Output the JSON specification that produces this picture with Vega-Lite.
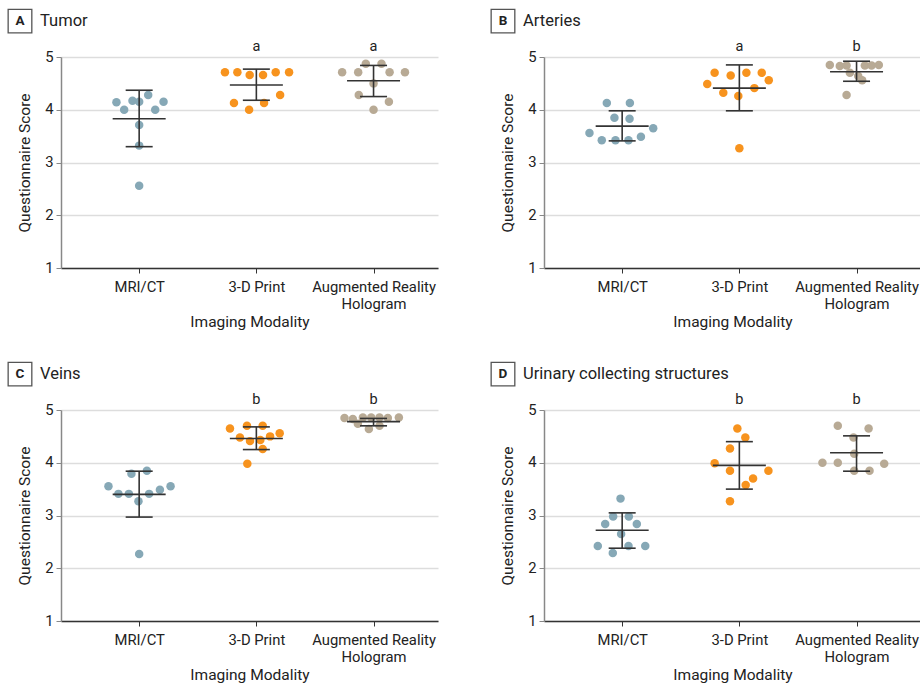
{
  "$schema": "https://vega.github.io/schema/vega-lite/v6.json",
  "padding": {"left": 5, "top": 6, "right": 0, "bottom": 0},
  "spacing": 28,
  "config": {
    "font": "Roboto",
    "view": {"stroke": null},
    "axis": {"labelFont": "Roboto", "titleFont": "Roboto", "titleFontWeight": "normal", "labelColor": "#222", "titleColor": "#222"},
    "axisX": {
      "grid": false,
      "labelFontSize": 14.8,
      "labelLineHeight": 17,
      "labelPadding": 6,
      "tickSize": 5,
      "tickColor": "#333",
      "domainColor": "#333",
      "domainWidth": 1.3,
      "titleFontSize": 15.5,
      "titlePadding": 4
    },
    "axisY": {
      "grid": true,
      "gridColor": "#dddddd",
      "gridWidth": 1.5,
      "labelFontSize": 14.8,
      "labelPadding": 3,
      "tickSize": 5,
      "tickColor": "#888",
      "domainColor": "#888",
      "domainWidth": 1.5,
      "titleFontSize": 15.5,
      "titlePadding": 12
    }
  },
  "datasets": {
    "pts": [
      {"panel": "A", "group": "MRI/CT", "x": 0.806, "score": 4.14},
      {"panel": "A", "group": "MRI/CT", "x": 0.872, "score": 4.00},
      {"panel": "A", "group": "MRI/CT", "x": 0.943, "score": 4.17},
      {"panel": "A", "group": "MRI/CT", "x": 1.000, "score": 4.15},
      {"panel": "A", "group": "MRI/CT", "x": 1.077, "score": 4.28},
      {"panel": "A", "group": "MRI/CT", "x": 1.137, "score": 4.00},
      {"panel": "A", "group": "MRI/CT", "x": 1.208, "score": 4.15},
      {"panel": "A", "group": "MRI/CT", "x": 1.000, "score": 3.71},
      {"panel": "A", "group": "MRI/CT", "x": 1.000, "score": 3.32},
      {"panel": "A", "group": "MRI/CT", "x": 1.000, "score": 2.56},
      {"panel": "A", "group": "3-D Print", "x": 1.732, "score": 4.71},
      {"panel": "A", "group": "3-D Print", "x": 1.838, "score": 4.71},
      {"panel": "A", "group": "3-D Print", "x": 1.943, "score": 4.66},
      {"panel": "A", "group": "3-D Print", "x": 2.057, "score": 4.66},
      {"panel": "A", "group": "3-D Print", "x": 2.165, "score": 4.71},
      {"panel": "A", "group": "3-D Print", "x": 2.279, "score": 4.71},
      {"panel": "A", "group": "3-D Print", "x": 2.203, "score": 4.28},
      {"panel": "A", "group": "3-D Print", "x": 1.809, "score": 4.13},
      {"panel": "A", "group": "3-D Print", "x": 2.066, "score": 4.13},
      {"panel": "A", "group": "3-D Print", "x": 1.938, "score": 4.00},
      {"panel": "A", "group": "Augmented Reality Hologram", "x": 2.732, "score": 4.71},
      {"panel": "A", "group": "Augmented Reality Hologram", "x": 2.869, "score": 4.71},
      {"panel": "A", "group": "Augmented Reality Hologram", "x": 2.934, "score": 4.87},
      {"panel": "A", "group": "Augmented Reality Hologram", "x": 3.068, "score": 4.87},
      {"panel": "A", "group": "Augmented Reality Hologram", "x": 3.137, "score": 4.71},
      {"panel": "A", "group": "Augmented Reality Hologram", "x": 3.268, "score": 4.71},
      {"panel": "A", "group": "Augmented Reality Hologram", "x": 3.000, "score": 4.50},
      {"panel": "A", "group": "Augmented Reality Hologram", "x": 2.874, "score": 4.28},
      {"panel": "A", "group": "Augmented Reality Hologram", "x": 3.131, "score": 4.15},
      {"panel": "A", "group": "Augmented Reality Hologram", "x": 3.000, "score": 4.00},
      {"panel": "B", "group": "MRI/CT", "x": 0.869, "score": 4.13},
      {"panel": "B", "group": "MRI/CT", "x": 1.066, "score": 4.13},
      {"panel": "B", "group": "MRI/CT", "x": 0.934, "score": 3.85},
      {"panel": "B", "group": "MRI/CT", "x": 1.063, "score": 3.83},
      {"panel": "B", "group": "MRI/CT", "x": 0.721, "score": 3.56},
      {"panel": "B", "group": "MRI/CT", "x": 1.265, "score": 3.65},
      {"panel": "B", "group": "MRI/CT", "x": 0.826, "score": 3.42},
      {"panel": "B", "group": "MRI/CT", "x": 0.943, "score": 3.42},
      {"panel": "B", "group": "MRI/CT", "x": 1.054, "score": 3.42},
      {"panel": "B", "group": "MRI/CT", "x": 1.160, "score": 3.49},
      {"panel": "B", "group": "3-D Print", "x": 1.789, "score": 4.70},
      {"panel": "B", "group": "3-D Print", "x": 1.926, "score": 4.65},
      {"panel": "B", "group": "3-D Print", "x": 2.060, "score": 4.70},
      {"panel": "B", "group": "3-D Print", "x": 2.191, "score": 4.70},
      {"panel": "B", "group": "3-D Print", "x": 1.726, "score": 4.49},
      {"panel": "B", "group": "3-D Print", "x": 2.251, "score": 4.56},
      {"panel": "B", "group": "3-D Print", "x": 1.863, "score": 4.32},
      {"panel": "B", "group": "3-D Print", "x": 1.991, "score": 4.26},
      {"panel": "B", "group": "3-D Print", "x": 2.128, "score": 4.41},
      {"panel": "B", "group": "3-D Print", "x": 2.000, "score": 3.27},
      {"panel": "B", "group": "Augmented Reality Hologram", "x": 2.772, "score": 4.85},
      {"panel": "B", "group": "Augmented Reality Hologram", "x": 2.857, "score": 4.83},
      {"panel": "B", "group": "Augmented Reality Hologram", "x": 2.915, "score": 4.84},
      {"panel": "B", "group": "Augmented Reality Hologram", "x": 3.071, "score": 4.84},
      {"panel": "B", "group": "Augmented Reality Hologram", "x": 3.128, "score": 4.84},
      {"panel": "B", "group": "Augmented Reality Hologram", "x": 3.190, "score": 4.85},
      {"panel": "B", "group": "Augmented Reality Hologram", "x": 2.943, "score": 4.70},
      {"panel": "B", "group": "Augmented Reality Hologram", "x": 3.014, "score": 4.64},
      {"panel": "B", "group": "Augmented Reality Hologram", "x": 3.048, "score": 4.56},
      {"panel": "B", "group": "Augmented Reality Hologram", "x": 2.915, "score": 4.28},
      {"panel": "C", "group": "MRI/CT", "x": 0.738, "score": 3.555},
      {"panel": "C", "group": "MRI/CT", "x": 0.823, "score": 3.41},
      {"panel": "C", "group": "MRI/CT", "x": 0.912, "score": 3.41},
      {"panel": "C", "group": "MRI/CT", "x": 0.934, "score": 3.79},
      {"panel": "C", "group": "MRI/CT", "x": 1.066, "score": 3.85},
      {"panel": "C", "group": "MRI/CT", "x": 0.994, "score": 3.27},
      {"panel": "C", "group": "MRI/CT", "x": 1.085, "score": 3.41},
      {"panel": "C", "group": "MRI/CT", "x": 1.177, "score": 3.49},
      {"panel": "C", "group": "MRI/CT", "x": 1.268, "score": 3.555},
      {"panel": "C", "group": "MRI/CT", "x": 1.000, "score": 2.27},
      {"panel": "C", "group": "3-D Print", "x": 1.775, "score": 4.65},
      {"panel": "C", "group": "3-D Print", "x": 1.920, "score": 4.70},
      {"panel": "C", "group": "3-D Print", "x": 2.054, "score": 4.70},
      {"panel": "C", "group": "3-D Print", "x": 1.860, "score": 4.48},
      {"panel": "C", "group": "3-D Print", "x": 1.946, "score": 4.41},
      {"panel": "C", "group": "3-D Print", "x": 2.034, "score": 4.43},
      {"panel": "C", "group": "3-D Print", "x": 2.117, "score": 4.50},
      {"panel": "C", "group": "3-D Print", "x": 2.199, "score": 4.56},
      {"panel": "C", "group": "3-D Print", "x": 2.054, "score": 4.26},
      {"panel": "C", "group": "3-D Print", "x": 1.923, "score": 3.98},
      {"panel": "C", "group": "Augmented Reality Hologram", "x": 2.752, "score": 4.85},
      {"panel": "C", "group": "Augmented Reality Hologram", "x": 2.823, "score": 4.83},
      {"panel": "C", "group": "Augmented Reality Hologram", "x": 2.909, "score": 4.86},
      {"panel": "C", "group": "Augmented Reality Hologram", "x": 2.980, "score": 4.86},
      {"panel": "C", "group": "Augmented Reality Hologram", "x": 3.051, "score": 4.86},
      {"panel": "C", "group": "Augmented Reality Hologram", "x": 3.122, "score": 4.85},
      {"panel": "C", "group": "Augmented Reality Hologram", "x": 3.216, "score": 4.86},
      {"panel": "C", "group": "Augmented Reality Hologram", "x": 2.866, "score": 4.74},
      {"panel": "C", "group": "Augmented Reality Hologram", "x": 2.960, "score": 4.64},
      {"panel": "C", "group": "Augmented Reality Hologram", "x": 3.051, "score": 4.70},
      {"panel": "D", "group": "MRI/CT", "x": 0.986, "score": 3.32},
      {"panel": "D", "group": "MRI/CT", "x": 0.923, "score": 2.98},
      {"panel": "D", "group": "MRI/CT", "x": 1.057, "score": 2.98},
      {"panel": "D", "group": "MRI/CT", "x": 0.855, "score": 2.84},
      {"panel": "D", "group": "MRI/CT", "x": 1.125, "score": 2.84},
      {"panel": "D", "group": "MRI/CT", "x": 0.991, "score": 2.65},
      {"panel": "D", "group": "MRI/CT", "x": 0.792, "score": 2.42},
      {"panel": "D", "group": "MRI/CT", "x": 1.054, "score": 2.42},
      {"panel": "D", "group": "MRI/CT", "x": 1.197, "score": 2.42},
      {"panel": "D", "group": "MRI/CT", "x": 0.920, "score": 2.29},
      {"panel": "D", "group": "3-D Print", "x": 1.983, "score": 4.65},
      {"panel": "D", "group": "3-D Print", "x": 2.051, "score": 4.48},
      {"panel": "D", "group": "3-D Print", "x": 1.920, "score": 4.27},
      {"panel": "D", "group": "3-D Print", "x": 1.789, "score": 3.99},
      {"panel": "D", "group": "3-D Print", "x": 1.920, "score": 3.85},
      {"panel": "D", "group": "3-D Print", "x": 2.248, "score": 3.85},
      {"panel": "D", "group": "3-D Print", "x": 2.117, "score": 3.70},
      {"panel": "D", "group": "3-D Print", "x": 2.054, "score": 3.58},
      {"panel": "D", "group": "3-D Print", "x": 1.920, "score": 3.27},
      {"panel": "D", "group": "Augmented Reality Hologram", "x": 2.840, "score": 4.70},
      {"panel": "D", "group": "Augmented Reality Hologram", "x": 3.103, "score": 4.65},
      {"panel": "D", "group": "Augmented Reality Hologram", "x": 2.974, "score": 4.48},
      {"panel": "D", "group": "Augmented Reality Hologram", "x": 2.980, "score": 4.17},
      {"panel": "D", "group": "Augmented Reality Hologram", "x": 2.709, "score": 4.00},
      {"panel": "D", "group": "Augmented Reality Hologram", "x": 2.840, "score": 4.00},
      {"panel": "D", "group": "Augmented Reality Hologram", "x": 3.236, "score": 3.98},
      {"panel": "D", "group": "Augmented Reality Hologram", "x": 2.980, "score": 3.85},
      {"panel": "D", "group": "Augmented Reality Hologram", "x": 3.111, "score": 3.85}
    ],
    "sums": [
      {"panel": "A", "group": "MRI/CT", "x": 1, "mean": 3.83, "lo": 3.30, "hi": 4.37, "sig": ""},
      {"panel": "A", "group": "3-D Print", "x": 2, "mean": 4.47, "lo": 4.18, "hi": 4.77, "sig": "a"},
      {"panel": "A", "group": "Augmented Reality Hologram", "x": 3, "mean": 4.55, "lo": 4.25, "hi": 4.84, "sig": "a"},
      {"panel": "B", "group": "MRI/CT", "x": 1, "mean": 3.69, "lo": 3.41, "hi": 3.98, "sig": ""},
      {"panel": "B", "group": "3-D Print", "x": 2, "mean": 4.41, "lo": 3.98, "hi": 4.85, "sig": "a"},
      {"panel": "B", "group": "Augmented Reality Hologram", "x": 3, "mean": 4.72, "lo": 4.54, "hi": 4.92, "sig": "b"},
      {"panel": "C", "group": "MRI/CT", "x": 1, "mean": 3.40, "lo": 2.97, "hi": 3.84, "sig": ""},
      {"panel": "C", "group": "3-D Print", "x": 2, "mean": 4.46, "lo": 4.25, "hi": 4.68, "sig": "b"},
      {"panel": "C", "group": "Augmented Reality Hologram", "x": 3, "mean": 4.78, "lo": 4.70, "hi": 4.84, "sig": "b"},
      {"panel": "D", "group": "MRI/CT", "x": 1, "mean": 2.72, "lo": 2.38, "hi": 3.05, "sig": ""},
      {"panel": "D", "group": "3-D Print", "x": 2, "mean": 3.95, "lo": 3.50, "hi": 4.40, "sig": "b"},
      {"panel": "D", "group": "Augmented Reality Hologram", "x": 3, "mean": 4.19, "lo": 3.84, "hi": 4.51, "sig": "b"}
    ],
    "hdrs": [
      {"panel": "A", "letter": "A", "name": "Tumor"},
      {"panel": "B", "letter": "B", "name": "Arteries"},
      {"panel": "C", "letter": "C", "name": "Veins"},
      {"panel": "D", "letter": "D", "name": "Urinary collecting structures"}
    ]
  },
  "vconcat": [
    {"spacing": 50, "hconcat": [
      {"width": 377, "height": 211, "layer": [
        {"data": {"name": "pts"}, "transform": [{"filter": "datum.panel == 'A'"}], "mark": {"type": "circle", "size": 72, "opacity": 1},
         "encoding": {"x": {"field": "x", "type": "quantitative", "scale": {"domain": [0.333, 3.55], "nice": false, "zero": false}, "axis": {"title": "Imaging Modality", "values": [1, 2, 3], "labelExpr": "datum.value == 1 ? 'MRI/CT' : datum.value == 2 ? '3-D Print' : ['Augmented Reality', 'Hologram']"}},
                      "y": {"field": "score", "type": "quantitative", "scale": {"domain": [1, 5], "nice": false, "zero": false}, "axis": {"title": "Questionnaire Score", "values": [1, 2, 3, 4, 5], "format": "d"}},
                      "color": {"field": "group", "type": "nominal", "legend": null, "scale": {"domain": ["MRI/CT", "3-D Print", "Augmented Reality Hologram"], "range": ["#86a8b6", "#f7931e", "#b8aa95"]}}}},
        {"data": {"name": "sums"}, "transform": [{"filter": "datum.panel == 'A'"}], "mark": {"type": "rule", "color": "#333", "strokeWidth": 1.6},
         "encoding": {"x": {"field": "x", "type": "quantitative"}, "y": {"field": "lo", "type": "quantitative"}, "y2": {"field": "hi"}}},
        {"data": {"name": "sums"}, "transform": [{"filter": "datum.panel == 'A'"}], "mark": {"type": "tick", "orient": "horizontal", "size": 53, "thickness": 1.6, "color": "#333", "opacity": 1},
         "encoding": {"x": {"field": "x", "type": "quantitative"}, "y": {"field": "mean", "type": "quantitative"}}},
        {"data": {"name": "sums"}, "transform": [{"filter": "datum.panel == 'A'"}], "mark": {"type": "tick", "orient": "horizontal", "size": 27, "thickness": 1.6, "color": "#333", "opacity": 1},
         "encoding": {"x": {"field": "x", "type": "quantitative"}, "y": {"field": "lo", "type": "quantitative"}}},
        {"data": {"name": "sums"}, "transform": [{"filter": "datum.panel == 'A'"}], "mark": {"type": "tick", "orient": "horizontal", "size": 27, "thickness": 1.6, "color": "#333", "opacity": 1},
         "encoding": {"x": {"field": "x", "type": "quantitative"}, "y": {"field": "hi", "type": "quantitative"}}},
        {"data": {"name": "sums"}, "transform": [{"filter": "datum.panel == 'A' && datum.sig != ''"}], "mark": {"type": "text", "fontSize": 14.5, "baseline": "bottom", "dy": -3, "color": "#222"},
         "encoding": {"x": {"field": "x", "type": "quantitative"}, "y": {"datum": 5, "type": "quantitative"}, "text": {"field": "sig"}}},
        {"data": {"name": "hdrs"}, "transform": [{"filter": "datum.panel == 'A'"}], "mark": {"type": "point", "shape": "square", "size": 560, "filled": false, "stroke": "#555", "strokeWidth": 1.3, "opacity": 1},
         "encoding": {"x": {"datum": -0.017, "type": "quantitative"}, "y": {"datum": 5.68, "type": "quantitative"}}},
        {"data": {"name": "hdrs"}, "transform": [{"filter": "datum.panel == 'A'"}], "mark": {"type": "text", "fontSize": 13.5, "fontWeight": "bold", "align": "center", "baseline": "middle", "color": "#222"},
         "encoding": {"x": {"datum": -0.017, "type": "quantitative"}, "y": {"datum": 5.68, "type": "quantitative"}, "text": {"field": "letter"}}},
        {"data": {"name": "hdrs"}, "transform": [{"filter": "datum.panel == 'A'"}], "mark": {"type": "text", "fontSize": 16.5, "align": "left", "baseline": "middle", "color": "#222"},
         "encoding": {"x": {"datum": 0.154, "type": "quantitative"}, "y": {"datum": 5.68, "type": "quantitative"}, "text": {"field": "name"}}}
      ]},
      {"width": 377, "height": 211, "layer": [
        {"data": {"name": "pts"}, "transform": [{"filter": "datum.panel == 'B'"}], "mark": {"type": "circle", "size": 72, "opacity": 1},
         "encoding": {"x": {"field": "x", "type": "quantitative", "scale": {"domain": [0.333, 3.55], "nice": false, "zero": false}, "axis": {"title": "Imaging Modality", "values": [1, 2, 3], "labelExpr": "datum.value == 1 ? 'MRI/CT' : datum.value == 2 ? '3-D Print' : ['Augmented Reality', 'Hologram']"}},
                      "y": {"field": "score", "type": "quantitative", "scale": {"domain": [1, 5], "nice": false, "zero": false}, "axis": {"title": "Questionnaire Score", "values": [1, 2, 3, 4, 5], "format": "d"}},
                      "color": {"field": "group", "type": "nominal", "legend": null, "scale": {"domain": ["MRI/CT", "3-D Print", "Augmented Reality Hologram"], "range": ["#86a8b6", "#f7931e", "#b8aa95"]}}}},
        {"data": {"name": "sums"}, "transform": [{"filter": "datum.panel == 'B'"}], "mark": {"type": "rule", "color": "#333", "strokeWidth": 1.6},
         "encoding": {"x": {"field": "x", "type": "quantitative"}, "y": {"field": "lo", "type": "quantitative"}, "y2": {"field": "hi"}}},
        {"data": {"name": "sums"}, "transform": [{"filter": "datum.panel == 'B'"}], "mark": {"type": "tick", "orient": "horizontal", "size": 53, "thickness": 1.6, "color": "#333", "opacity": 1},
         "encoding": {"x": {"field": "x", "type": "quantitative"}, "y": {"field": "mean", "type": "quantitative"}}},
        {"data": {"name": "sums"}, "transform": [{"filter": "datum.panel == 'B'"}], "mark": {"type": "tick", "orient": "horizontal", "size": 27, "thickness": 1.6, "color": "#333", "opacity": 1},
         "encoding": {"x": {"field": "x", "type": "quantitative"}, "y": {"field": "lo", "type": "quantitative"}}},
        {"data": {"name": "sums"}, "transform": [{"filter": "datum.panel == 'B'"}], "mark": {"type": "tick", "orient": "horizontal", "size": 27, "thickness": 1.6, "color": "#333", "opacity": 1},
         "encoding": {"x": {"field": "x", "type": "quantitative"}, "y": {"field": "hi", "type": "quantitative"}}},
        {"data": {"name": "sums"}, "transform": [{"filter": "datum.panel == 'B' && datum.sig != ''"}], "mark": {"type": "text", "fontSize": 14.5, "baseline": "bottom", "dy": -3, "color": "#222"},
         "encoding": {"x": {"field": "x", "type": "quantitative"}, "y": {"datum": 5, "type": "quantitative"}, "text": {"field": "sig"}}},
        {"data": {"name": "hdrs"}, "transform": [{"filter": "datum.panel == 'B'"}], "mark": {"type": "point", "shape": "square", "size": 560, "filled": false, "stroke": "#555", "strokeWidth": 1.3, "opacity": 1},
         "encoding": {"x": {"datum": -0.017, "type": "quantitative"}, "y": {"datum": 5.68, "type": "quantitative"}}},
        {"data": {"name": "hdrs"}, "transform": [{"filter": "datum.panel == 'B'"}], "mark": {"type": "text", "fontSize": 13.5, "fontWeight": "bold", "align": "center", "baseline": "middle", "color": "#222"},
         "encoding": {"x": {"datum": -0.017, "type": "quantitative"}, "y": {"datum": 5.68, "type": "quantitative"}, "text": {"field": "letter"}}},
        {"data": {"name": "hdrs"}, "transform": [{"filter": "datum.panel == 'B'"}], "mark": {"type": "text", "fontSize": 16.5, "align": "left", "baseline": "middle", "color": "#222"},
         "encoding": {"x": {"datum": 0.154, "type": "quantitative"}, "y": {"datum": 5.68, "type": "quantitative"}, "text": {"field": "name"}}}
      ]}
    ]},
    {"spacing": 50, "hconcat": [
      {"width": 377, "height": 211, "layer": [
        {"data": {"name": "pts"}, "transform": [{"filter": "datum.panel == 'C'"}], "mark": {"type": "circle", "size": 72, "opacity": 1},
         "encoding": {"x": {"field": "x", "type": "quantitative", "scale": {"domain": [0.333, 3.55], "nice": false, "zero": false}, "axis": {"title": "Imaging Modality", "values": [1, 2, 3], "labelExpr": "datum.value == 1 ? 'MRI/CT' : datum.value == 2 ? '3-D Print' : ['Augmented Reality', 'Hologram']"}},
                      "y": {"field": "score", "type": "quantitative", "scale": {"domain": [1, 5], "nice": false, "zero": false}, "axis": {"title": "Questionnaire Score", "values": [1, 2, 3, 4, 5], "format": "d"}},
                      "color": {"field": "group", "type": "nominal", "legend": null, "scale": {"domain": ["MRI/CT", "3-D Print", "Augmented Reality Hologram"], "range": ["#86a8b6", "#f7931e", "#b8aa95"]}}}},
        {"data": {"name": "sums"}, "transform": [{"filter": "datum.panel == 'C'"}], "mark": {"type": "rule", "color": "#333", "strokeWidth": 1.6},
         "encoding": {"x": {"field": "x", "type": "quantitative"}, "y": {"field": "lo", "type": "quantitative"}, "y2": {"field": "hi"}}},
        {"data": {"name": "sums"}, "transform": [{"filter": "datum.panel == 'C'"}], "mark": {"type": "tick", "orient": "horizontal", "size": 53, "thickness": 1.6, "color": "#333", "opacity": 1},
         "encoding": {"x": {"field": "x", "type": "quantitative"}, "y": {"field": "mean", "type": "quantitative"}}},
        {"data": {"name": "sums"}, "transform": [{"filter": "datum.panel == 'C'"}], "mark": {"type": "tick", "orient": "horizontal", "size": 27, "thickness": 1.6, "color": "#333", "opacity": 1},
         "encoding": {"x": {"field": "x", "type": "quantitative"}, "y": {"field": "lo", "type": "quantitative"}}},
        {"data": {"name": "sums"}, "transform": [{"filter": "datum.panel == 'C'"}], "mark": {"type": "tick", "orient": "horizontal", "size": 27, "thickness": 1.6, "color": "#333", "opacity": 1},
         "encoding": {"x": {"field": "x", "type": "quantitative"}, "y": {"field": "hi", "type": "quantitative"}}},
        {"data": {"name": "sums"}, "transform": [{"filter": "datum.panel == 'C' && datum.sig != ''"}], "mark": {"type": "text", "fontSize": 14.5, "baseline": "bottom", "dy": -3, "color": "#222"},
         "encoding": {"x": {"field": "x", "type": "quantitative"}, "y": {"datum": 5, "type": "quantitative"}, "text": {"field": "sig"}}},
        {"data": {"name": "hdrs"}, "transform": [{"filter": "datum.panel == 'C'"}], "mark": {"type": "point", "shape": "square", "size": 560, "filled": false, "stroke": "#555", "strokeWidth": 1.3, "opacity": 1},
         "encoding": {"x": {"datum": -0.017, "type": "quantitative"}, "y": {"datum": 5.68, "type": "quantitative"}}},
        {"data": {"name": "hdrs"}, "transform": [{"filter": "datum.panel == 'C'"}], "mark": {"type": "text", "fontSize": 13.5, "fontWeight": "bold", "align": "center", "baseline": "middle", "color": "#222"},
         "encoding": {"x": {"datum": -0.017, "type": "quantitative"}, "y": {"datum": 5.68, "type": "quantitative"}, "text": {"field": "letter"}}},
        {"data": {"name": "hdrs"}, "transform": [{"filter": "datum.panel == 'C'"}], "mark": {"type": "text", "fontSize": 16.5, "align": "left", "baseline": "middle", "color": "#222"},
         "encoding": {"x": {"datum": 0.154, "type": "quantitative"}, "y": {"datum": 5.68, "type": "quantitative"}, "text": {"field": "name"}}}
      ]},
      {"width": 377, "height": 211, "layer": [
        {"data": {"name": "pts"}, "transform": [{"filter": "datum.panel == 'D'"}], "mark": {"type": "circle", "size": 72, "opacity": 1},
         "encoding": {"x": {"field": "x", "type": "quantitative", "scale": {"domain": [0.333, 3.55], "nice": false, "zero": false}, "axis": {"title": "Imaging Modality", "values": [1, 2, 3], "labelExpr": "datum.value == 1 ? 'MRI/CT' : datum.value == 2 ? '3-D Print' : ['Augmented Reality', 'Hologram']"}},
                      "y": {"field": "score", "type": "quantitative", "scale": {"domain": [1, 5], "nice": false, "zero": false}, "axis": {"title": "Questionnaire Score", "values": [1, 2, 3, 4, 5], "format": "d"}},
                      "color": {"field": "group", "type": "nominal", "legend": null, "scale": {"domain": ["MRI/CT", "3-D Print", "Augmented Reality Hologram"], "range": ["#86a8b6", "#f7931e", "#b8aa95"]}}}},
        {"data": {"name": "sums"}, "transform": [{"filter": "datum.panel == 'D'"}], "mark": {"type": "rule", "color": "#333", "strokeWidth": 1.6},
         "encoding": {"x": {"field": "x", "type": "quantitative"}, "y": {"field": "lo", "type": "quantitative"}, "y2": {"field": "hi"}}},
        {"data": {"name": "sums"}, "transform": [{"filter": "datum.panel == 'D'"}], "mark": {"type": "tick", "orient": "horizontal", "size": 53, "thickness": 1.6, "color": "#333", "opacity": 1},
         "encoding": {"x": {"field": "x", "type": "quantitative"}, "y": {"field": "mean", "type": "quantitative"}}},
        {"data": {"name": "sums"}, "transform": [{"filter": "datum.panel == 'D'"}], "mark": {"type": "tick", "orient": "horizontal", "size": 27, "thickness": 1.6, "color": "#333", "opacity": 1},
         "encoding": {"x": {"field": "x", "type": "quantitative"}, "y": {"field": "lo", "type": "quantitative"}}},
        {"data": {"name": "sums"}, "transform": [{"filter": "datum.panel == 'D'"}], "mark": {"type": "tick", "orient": "horizontal", "size": 27, "thickness": 1.6, "color": "#333", "opacity": 1},
         "encoding": {"x": {"field": "x", "type": "quantitative"}, "y": {"field": "hi", "type": "quantitative"}}},
        {"data": {"name": "sums"}, "transform": [{"filter": "datum.panel == 'D' && datum.sig != ''"}], "mark": {"type": "text", "fontSize": 14.5, "baseline": "bottom", "dy": -3, "color": "#222"},
         "encoding": {"x": {"field": "x", "type": "quantitative"}, "y": {"datum": 5, "type": "quantitative"}, "text": {"field": "sig"}}},
        {"data": {"name": "hdrs"}, "transform": [{"filter": "datum.panel == 'D'"}], "mark": {"type": "point", "shape": "square", "size": 560, "filled": false, "stroke": "#555", "strokeWidth": 1.3, "opacity": 1},
         "encoding": {"x": {"datum": -0.017, "type": "quantitative"}, "y": {"datum": 5.68, "type": "quantitative"}}},
        {"data": {"name": "hdrs"}, "transform": [{"filter": "datum.panel == 'D'"}], "mark": {"type": "text", "fontSize": 13.5, "fontWeight": "bold", "align": "center", "baseline": "middle", "color": "#222"},
         "encoding": {"x": {"datum": -0.017, "type": "quantitative"}, "y": {"datum": 5.68, "type": "quantitative"}, "text": {"field": "letter"}}},
        {"data": {"name": "hdrs"}, "transform": [{"filter": "datum.panel == 'D'"}], "mark": {"type": "text", "fontSize": 16.5, "align": "left", "baseline": "middle", "color": "#222"},
         "encoding": {"x": {"datum": 0.154, "type": "quantitative"}, "y": {"datum": 5.68, "type": "quantitative"}, "text": {"field": "name"}}}
      ]}
    ]}
  ]
}
